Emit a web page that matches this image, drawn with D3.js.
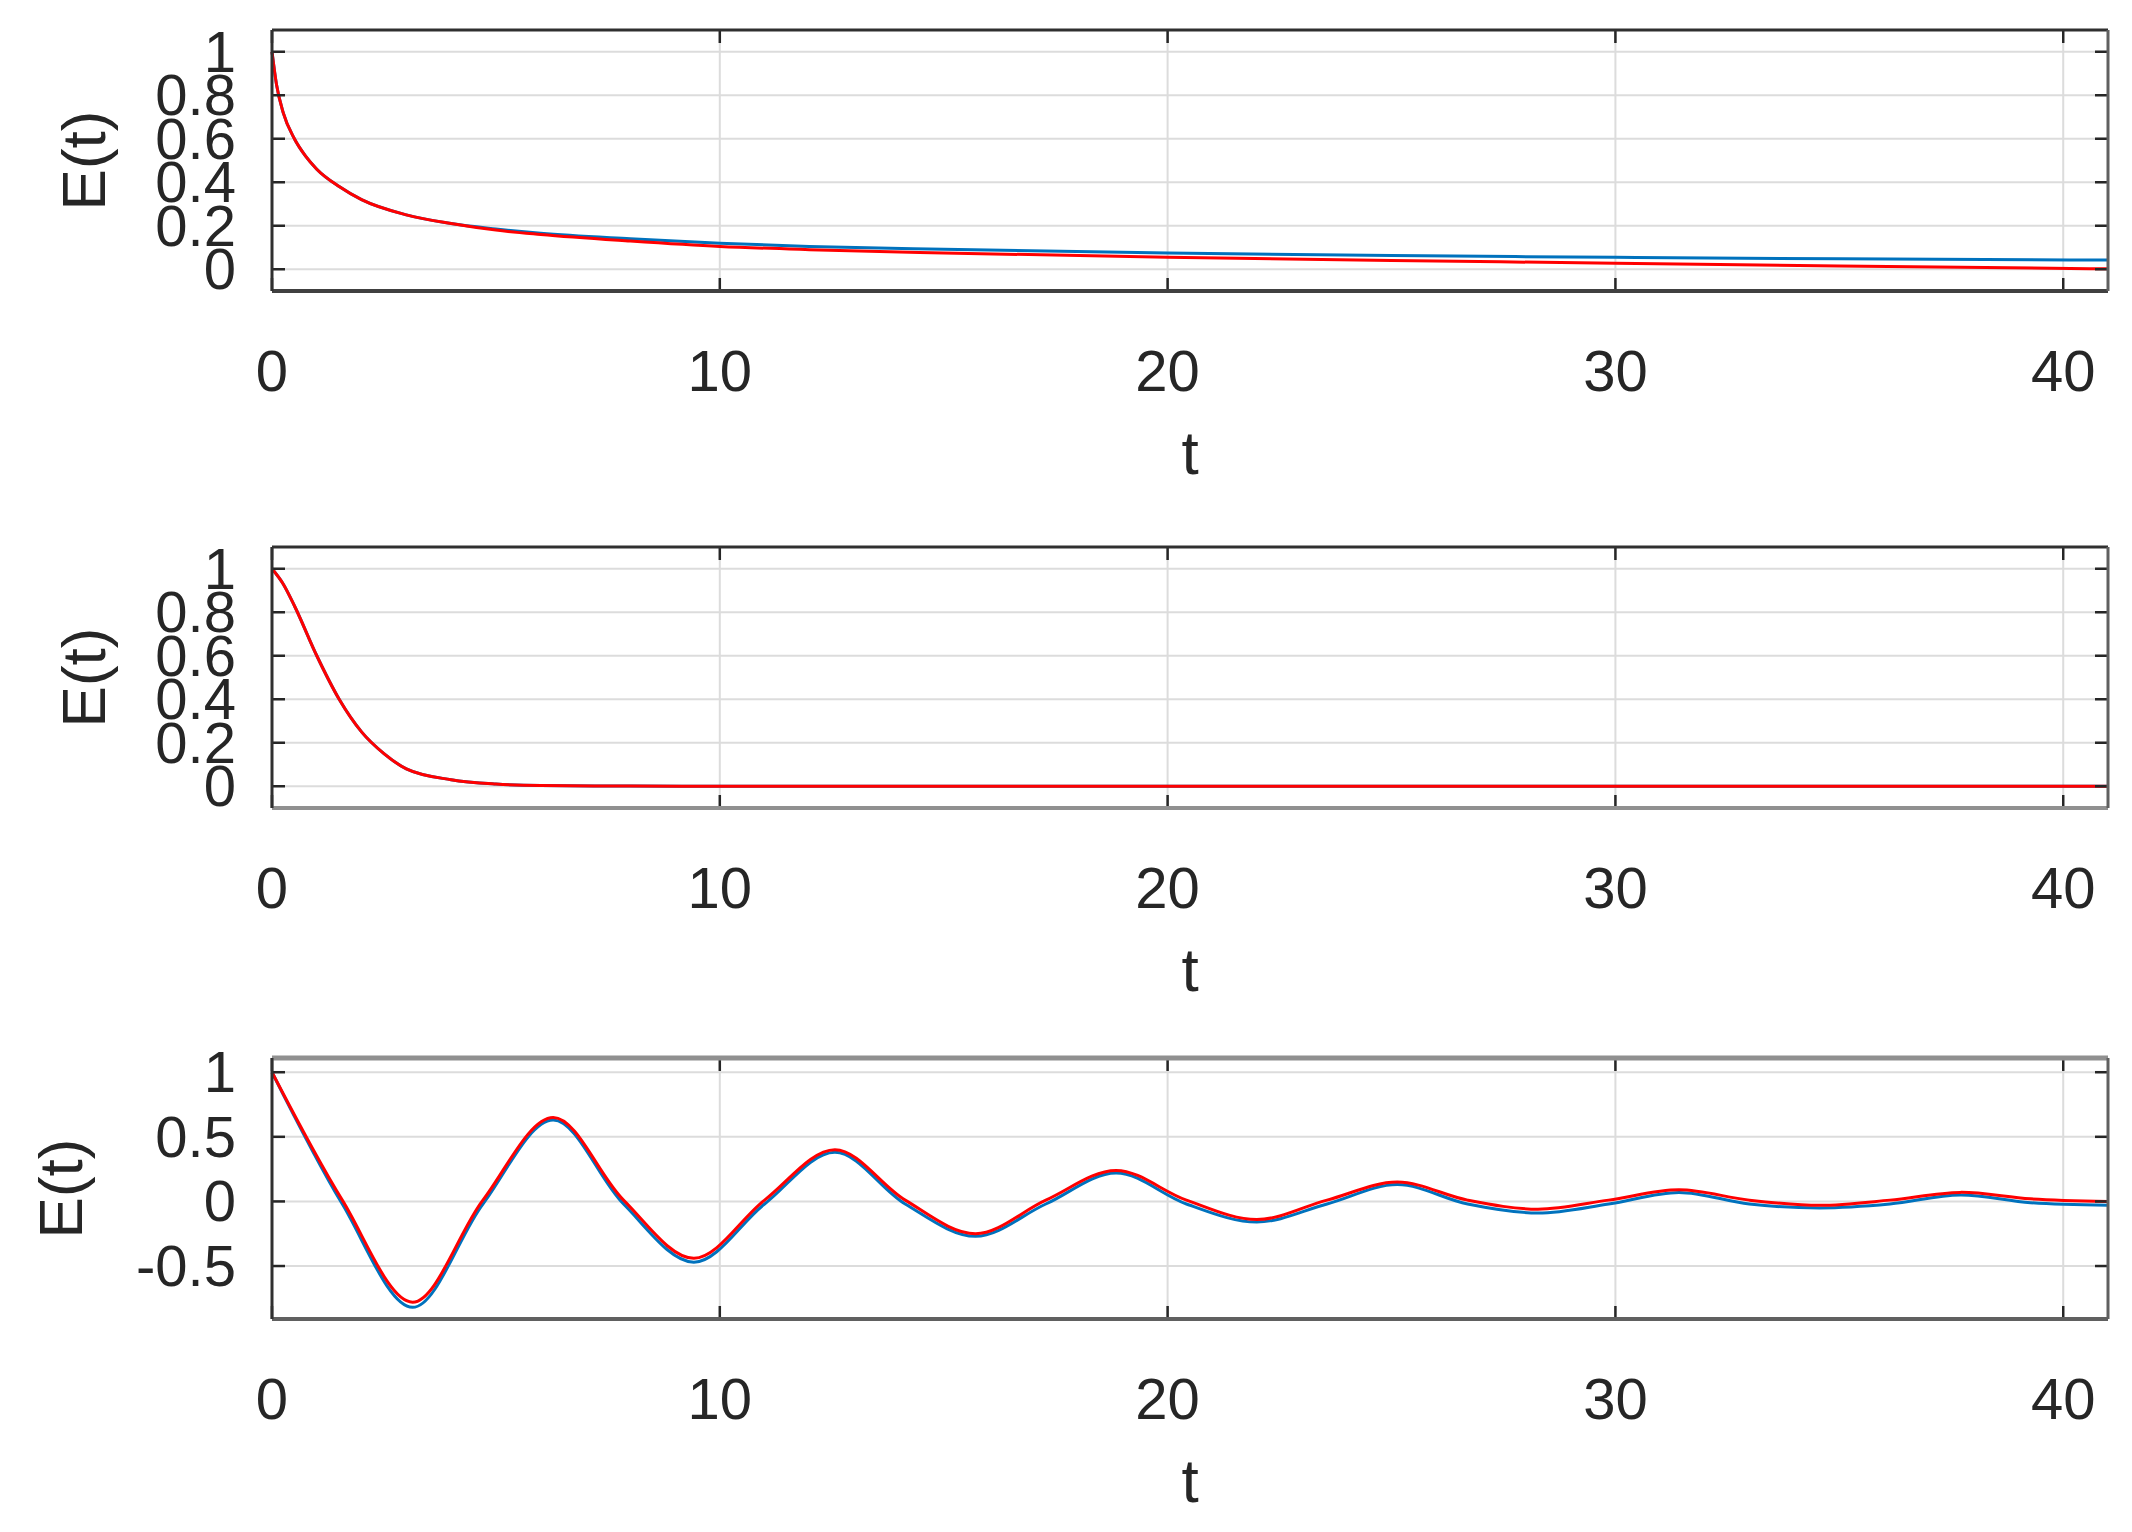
<!DOCTYPE html>
<html>
<head>
<meta charset="utf-8">
<script src="https://cdn.jsdelivr.net/npm/d3@7"></script>
<style>
  body { margin: 0; background: #fff; }
  text { font-family: "Liberation Sans", Arial, sans-serif; fill: #262626; }
</style>
</head>
<body>
<svg id="chart" width="2132" height="1532"></svg>
<script>
// panel 1: slow decay
var t1 = [0, 0.1, 0.25, 0.5, 0.75, 1, 1.5, 2, 3, 4, 5, 6, 8, 10, 12, 15, 20, 25, 30, 35, 41];
var blue1 = [1, 0.85, 0.72, 0.6, 0.52, 0.46, 0.38, 0.32, 0.25, 0.21, 0.185, 0.165, 0.14, 0.12, 0.105, 0.092, 0.075, 0.063, 0.055, 0.048, 0.042];
var red1 = [1, 0.85, 0.72, 0.6, 0.52, 0.46, 0.38, 0.32, 0.25, 0.21, 0.18, 0.16, 0.13, 0.105, 0.09, 0.075, 0.055, 0.04, 0.028, 0.015, 0.002];

// panel 2: fast decay
var t2 = [0, 0.25, 0.5, 1, 1.5, 2, 2.5, 3, 4, 5, 6, 8, 10, 20, 30, 41];
var blue2 = [1, 0.93, 0.83, 0.6, 0.4, 0.25, 0.15, 0.08, 0.03, 0.01, 0.003, 0.001, 0, 0, 0, 0];
var red2 = [1, 0.93, 0.83, 0.6, 0.4, 0.25, 0.15, 0.08, 0.03, 0.01, 0.003, 0.001, 0, 0, 0, 0];

// panel 3: damped oscillation
var t3 = [0, 1.57, 3.14, 4.71, 6.28, 7.85, 9.42, 11.0, 12.57, 14.14, 15.71, 17.28, 18.85, 20.42, 21.99, 23.56, 25.13, 26.7, 28.27, 29.85, 31.42, 32.99, 34.56, 36.13, 37.7, 39.27, 41];
var red3 = [1, 0.01, -0.78, 0.01, 0.65, 0.01, -0.44, 0.01, 0.40, 0.01, -0.25, 0.01, 0.24, 0.01, -0.14, 0.01, 0.15, 0.01, -0.06, 0.01, 0.09, 0.01, -0.03, 0.01, 0.07, 0.02, 0.0];
var blue3 = [1, -0.02, -0.82, -0.02, 0.63, -0.02, -0.47, -0.02, 0.38, -0.02, -0.27, -0.02, 0.22, -0.02, -0.16, -0.02, 0.13, -0.02, -0.09, -0.02, 0.07, -0.02, -0.05, -0.02, 0.05, -0.01, -0.03];

var xTicks = [0, 10, 20, 30, 40];
var yTicksA = [0, 0.2, 0.4, 0.6, 0.8, 1];
var yTicksB = [-0.5, 0, 0.5, 1];

var panels = [
  { top: 30, t: t1, blue: blue1, red: red1, yDomain: [-0.1, 1.1], yTicks: yTicksA, bottomStroke: "#404040", curve: d3.curveMonotoneX },
  { top: 547, t: t2, blue: blue2, red: red2, yDomain: [-0.1, 1.1], yTicks: yTicksA, bottomStroke: "#909090", curve: d3.curveMonotoneX },
  { top: 1058, t: t3, blue: blue3, red: red3, yDomain: [-0.91, 1.11], yTicks: yTicksB, bottomStroke: "#606060", topStroke: "#909090", curve: d3.curveCatmullRom }
];

var left = 272, right = 2108, ph = 261;
var svg = d3.select("#chart");
var x = d3.scaleLinear().domain([0, 41]).range([left, right]);

panels.forEach(function(p) {
  var y = d3.scaleLinear().domain(p.yDomain).range([p.top + ph, p.top]);
  var g = svg.append("g");

  // grid
  g.selectAll(".gx").data(xTicks).enter().append("line")
    .attr("x1", function(d) { return x(d); }).attr("x2", function(d) { return x(d); })
    .attr("y1", p.top).attr("y2", p.top + ph)
    .attr("stroke", "#dcdcdc").attr("stroke-width", 2);
  g.selectAll(".gy").data(p.yTicks).enter().append("line")
    .attr("x1", left).attr("x2", right)
    .attr("y1", function(d) { return y(d); }).attr("y2", function(d) { return y(d); })
    .attr("stroke", "#dcdcdc").attr("stroke-width", 2);

  // lines
  var line = d3.line().curve(p.curve)
    .x(function(d) { return x(d[0]); }).y(function(d) { return y(d[1]); });
  g.append("path").datum(d3.zip(p.t, p.blue)).attr("d", line)
    .attr("fill", "none").attr("stroke", "#0072BD").attr("stroke-width", 3);
  g.append("path").datum(d3.zip(p.t, p.red)).attr("d", line)
    .attr("fill", "none").attr("stroke", "#FF0000").attr("stroke-width", 3);

  // inward ticks, all four sides
  var tk = 13;
  xTicks.forEach(function(d) {
    g.append("line").attr("x1", x(d)).attr("x2", x(d)).attr("y1", p.top + ph).attr("y2", p.top + ph - tk)
      .attr("stroke", "#262626").attr("stroke-width", 2.5);
    g.append("line").attr("x1", x(d)).attr("x2", x(d)).attr("y1", p.top).attr("y2", p.top + tk)
      .attr("stroke", "#262626").attr("stroke-width", 2.5);
  });
  p.yTicks.forEach(function(d) {
    g.append("line").attr("x1", left).attr("x2", left + tk).attr("y1", y(d)).attr("y2", y(d))
      .attr("stroke", "#262626").attr("stroke-width", 2.5);
    g.append("line").attr("x1", right).attr("x2", right - tk).attr("y1", y(d)).attr("y2", y(d))
      .attr("stroke", "#262626").attr("stroke-width", 2.5);
  });

  // frame
  g.append("line").attr("x1", left).attr("x2", right).attr("y1", p.top).attr("y2", p.top)
    .attr("stroke", p.topStroke || "#303030").attr("stroke-width", p.topStroke ? 5 : 3);
  g.append("line").attr("x1", left).attr("x2", right).attr("y1", p.top + ph).attr("y2", p.top + ph)
    .attr("stroke", p.bottomStroke).attr("stroke-width", 4);
  g.append("line").attr("x1", left).attr("x2", left).attr("y1", p.top).attr("y2", p.top + ph)
    .attr("stroke", "#303030").attr("stroke-width", 3);
  g.append("line").attr("x1", right).attr("x2", right).attr("y1", p.top).attr("y2", p.top + ph)
    .attr("stroke", "#606060").attr("stroke-width", 3);

  // tick labels
  g.selectAll(".xl").data(xTicks).enter().append("text")
    .attr("x", function(d) { return x(d); }).attr("y", p.top + ph + 100)
    .attr("text-anchor", "middle").attr("font-size", 58)
    .text(function(d) { return d; });
  g.selectAll(".yl").data(p.yTicks).enter().append("text")
    .attr("x", left - 36).attr("y", function(d) { return y(d) + 20; })
    .attr("text-anchor", "end").attr("font-size", 58)
    .text(function(d) { return d; });

  // axis titles
  g.append("text").attr("x", (left + right) / 2).attr("y", p.top + ph + 183)
    .attr("text-anchor", "middle").attr("font-size", 62).text("t");
  var lx = p.yTicks === yTicksB ? 82 : 105;
  g.append("text")
    .attr("transform", "translate(" + lx + "," + (p.top + ph / 2) + ") rotate(-90)")
    .attr("text-anchor", "middle").attr("font-size", 62).text("E(t)");
});
</script>
</body>
</html>
